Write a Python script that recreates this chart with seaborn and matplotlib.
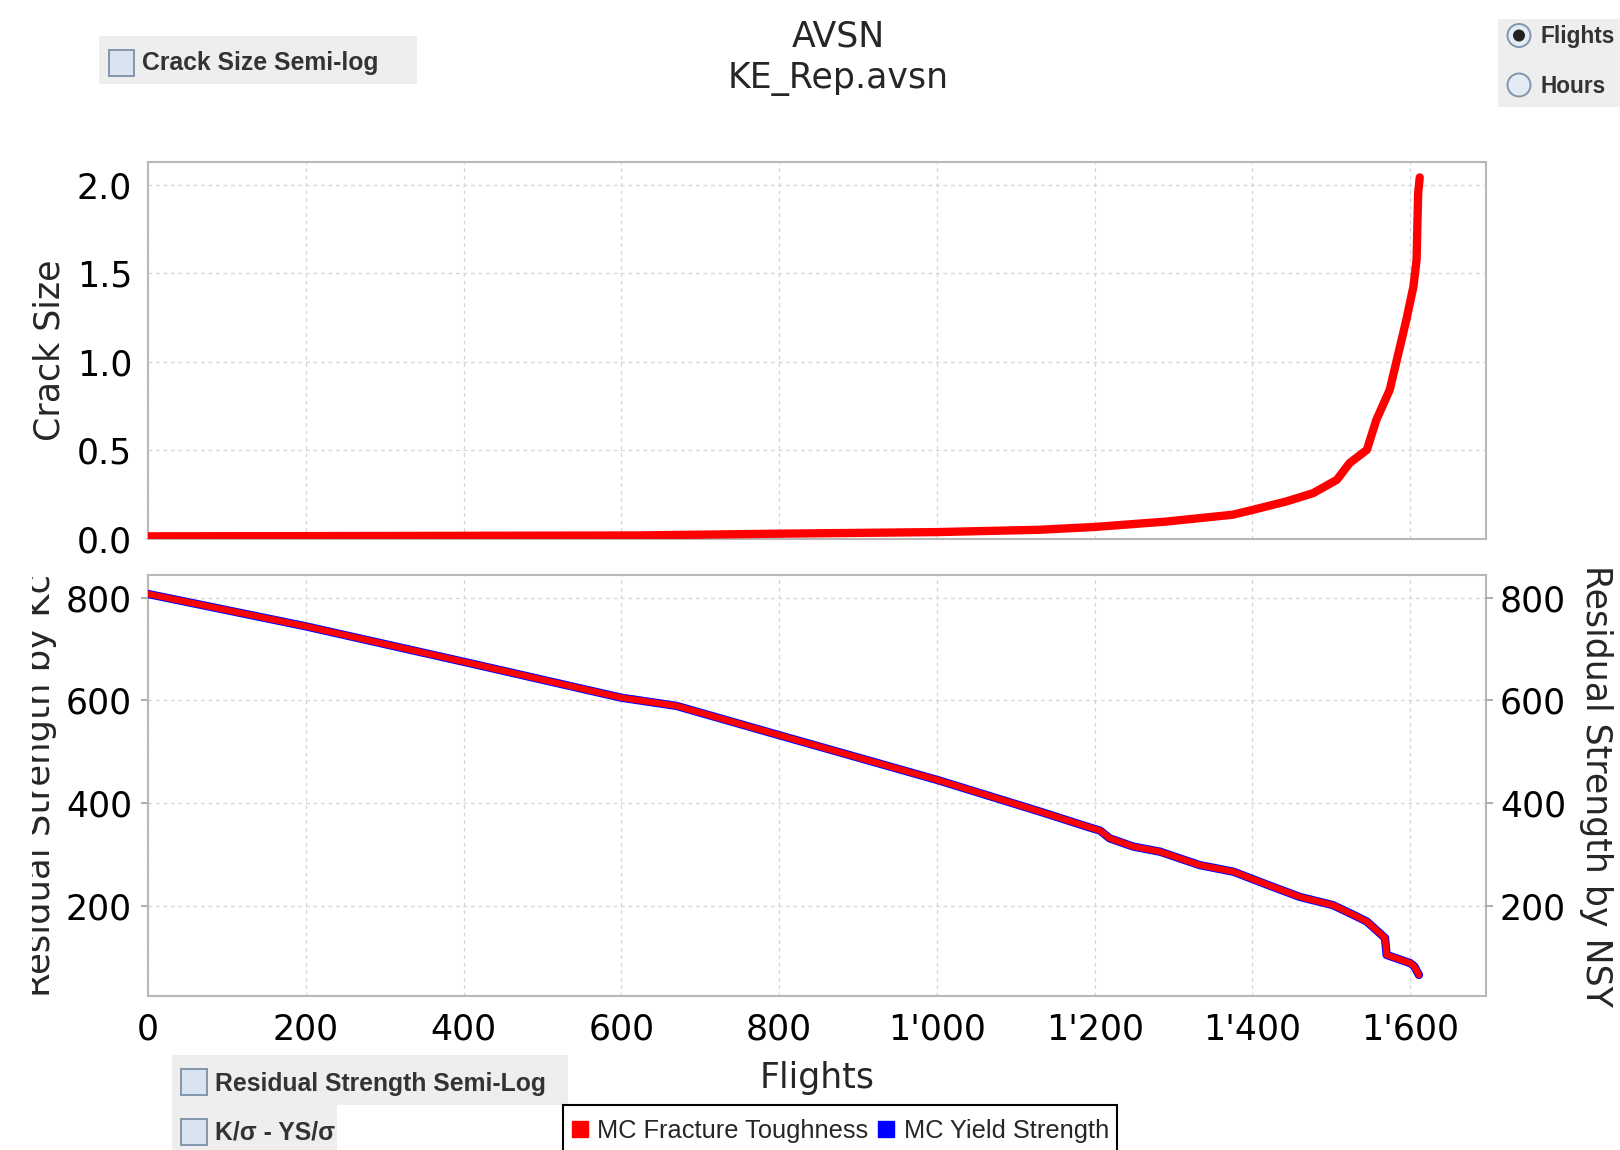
import matplotlib
matplotlib.use("Agg")
import matplotlib.pyplot as plt
import seaborn as sns
import pandas as pd
from matplotlib.patches import Rectangle, Circle
from matplotlib.lines import Line2D
from matplotlib.ticker import FuncFormatter, FixedLocator
from matplotlib.transforms import Bbox, TransformedBbox
from matplotlib import font_manager as fm

# ---------------- data ----------------
crack_flights = [0, 300, 620, 800, 1000, 1130, 1200, 1290, 1375, 1401, 1443, 1477,
                 1507, 1523, 1545, 1557, 1574, 1583, 1595, 1604, 1608, 1610, 1612]
crack_size = [0.015, 0.017, 0.020, 0.030, 0.039, 0.052, 0.068, 0.098, 0.137, 0.165,
              0.212, 0.259, 0.334, 0.428, 0.503, 0.672, 0.842, 1.011, 1.236, 1.424,
              1.575, 1.950, 2.040]

rs_flights = [0, 200, 400, 600, 670, 800, 1000, 1131, 1190, 1207, 1219, 1249, 1283,
              1333, 1376, 1420, 1460, 1502, 1528, 1545, 1568, 1570, 1600, 1605, 1611]
rs_kc = [807, 744, 675, 605, 589, 532, 445, 383, 354, 346, 331, 315, 305,
         279, 266, 240, 217, 201, 182, 169, 137, 104, 88, 82, 65]
rs_nsy = [807, 744, 675, 605, 589, 532, 445, 383, 354, 346, 331, 315, 305,
          279, 266, 240, 217, 201, 182, 169, 137, 104, 88, 82, 65]

x_ticks = [0, 200, 400, 600, 800, 1000, 1200, 1400, 1600]
crack_ticks = [0.0, 0.5, 1.0, 1.5, 2.0]
rs_ticks = [200, 400, 600, 800]

title_lines = ["AVSN", "KE_Rep.avsn"]
series_names = ["MC Fracture Toughness", "MC Yield Strength"]

# ---------------- style ----------------
sns.set_theme(style="white")
plt.rcParams["font.family"] = ["DejaVu Sans"]

names = {f.name for f in fm.fontManager.ttflist}
HAS_NARROW = "Liberation Sans Narrow" in names
WFONT = "Liberation Sans Narrow" if HAS_NARROW else "Liberation Sans"
CB_SIZE = 21.5 if HAS_NARROW else 17.8
RB_SIZE = 20.0 if HAS_NARROW else 16.3

W, H = 1620, 1150
fig = plt.figure(figsize=(W / 100, H / 100), dpi=100, facecolor="white")

L, R = 148, 1486
ax1 = fig.add_axes([L / W, 1 - 539 / H, (R - L) / W, (539 - 162) / H])
ax2 = fig.add_axes([L / W, 1 - 996 / H, (R - L) / W, (996 - 575) / H], sharex=ax1)

df_crack = pd.DataFrame({"Flights": crack_flights, "Crack": crack_size})
df_rs = pd.DataFrame({"Flights": rs_flights, "Kc": rs_kc, "NSY": rs_nsy})

sns.lineplot(data=df_crack, x="Flights", y="Crack", ax=ax1, color="#ff0000",
             linewidth=6, sort=False, estimator=None, zorder=3)
sns.lineplot(data=df_rs, x="Flights", y="NSY", ax=ax2, color="#0000ff",
             linewidth=6.0, sort=False, estimator=None, zorder=3)
sns.lineplot(data=df_rs, x="Flights", y="Kc", ax=ax2, color="#ff0000",
             linewidth=4.6, sort=False, estimator=None, zorder=4)

spine_c = "#b8b8b8"
grid_kw = dict(color="#d4d4d4", linewidth=0.9, linestyle=(0, (3, 3)))

for ax in (ax1, ax2):
    for s in ax.spines.values():
        s.set_color(spine_c)
        s.set_linewidth(1.5)
    ax.set_xlim(0, 1696)
    ax.xaxis.set_major_locator(FixedLocator(x_ticks))
    ax.grid(True, **grid_kw)
    ax.set_axisbelow(True)
    ax.tick_params(axis="both", direction="out", length=5, width=1.2,
                   color="#a0a0a0", labelsize=25, labelcolor="black", pad=6.5)

ax1.set_ylim(0, 2.127)
ax1.yaxis.set_major_locator(FixedLocator(crack_ticks))
ax1.yaxis.set_major_formatter(FuncFormatter(lambda v, p: f"{v:.1f}"))
ax1.tick_params(axis="x", length=0, labelbottom=False)
ax1.set_xlabel("")
ax1.set_ylabel("Crack Size", fontsize=25)
ax1.yaxis.set_label_coords((49.5 - L) / (R - L), 0.5)
ax1.yaxis.label.set_verticalalignment("center")

ax2.set_ylim(24, 844)
ax2.yaxis.set_major_locator(FixedLocator(rs_ticks))
ax2.xaxis.set_major_formatter(FuncFormatter(lambda v, p: f"{int(v):,}".replace(",", "'")))
ax2.tick_params(axis="x", pad=7)
ax2.set_xlabel("Flights", fontsize=25)
ax2.xaxis.set_label_coords(0.5, (996 - 1061) / (996 - 575))
ax2.xaxis.label.set_verticalalignment("top")

# left label of the lower plot: clipped on its ascender side, as in the source
ax2.set_ylabel("Residual Strength by Kc", fontsize=25.5)
ax2.yaxis.set_label_coords((50 - L) / (R - L), 0.5)
ax2.yaxis.label.set_verticalalignment("baseline")
clip = TransformedBbox(Bbox([[32 / W, 1 - 997 / H], [1, 1 - 575 / H]]), fig.transFigure)
ax2.yaxis.label.set_clip_box(clip)
ax2.yaxis.label.set_clip_on(True)

ax2r = ax2.twinx()
ax2r.set_ylim(ax2.get_ylim())
ax2r.yaxis.set_major_locator(FixedLocator(rs_ticks))
ax2r.grid(False)
for s in ax2r.spines.values():
    s.set_visible(False)
ax2r.tick_params(axis="y", direction="out", length=5, width=1.2, color="#a0a0a0",
                 labelsize=25, labelcolor="black", pad=5)
ax2r.set_ylabel("Residual Strength by NSY", fontsize=25, rotation=270)
ax2r.yaxis.set_label_coords((1596 - L) / (R - L), 0.5)
ax2r.yaxis.label.set_verticalalignment("center")

# ---------------- titles ----------------
fig.text(838 / W, 1 - 46.5 / H, title_lines[0], fontsize=25, ha="center", va="baseline")
fig.text(838 / W, 1 - 88.5 / H, title_lines[1], fontsize=25, ha="center", va="baseline")

# ---------------- widget helpers ----------------
def prect(x0, y0, x1, y1, **kw):
    fig.add_artist(Rectangle((x0 / 100, (H - y1) / 100), (x1 - x0) / 100, (y1 - y0) / 100,
                             transform=fig.dpi_scale_trans, **kw))

def pcircle(cx, cy, r, **kw):
    fig.add_artist(Circle((cx / 100, (H - cy) / 100), r / 100,
                          transform=fig.dpi_scale_trans, **kw))

def ptext(x, y, s, size, **kw):
    fig.text(x / W, 1 - y / H, s, fontsize=size, va="center", ha="left",
             family=[WFONT, "DejaVu Sans"], fontweight="bold", color="#333333", **kw)

box_c = "#eeeeee"
cb_face, cb_edge = "#d9e4f0", "#8195ac"

# Crack Size Semi-log checkbox
prect(99, 36, 417, 84, facecolor=box_c, edgecolor="none")
prect(108.5, 50.5, 134, 76, facecolor=cb_face, edgecolor=cb_edge, linewidth=1.4)
ptext(141.5, 63, "Crack Size Semi-log", CB_SIZE)

# Flights / Hours radio buttons
prect(1498, 19, 1621, 107, facecolor=box_c, edgecolor="none")
pcircle(1519, 35.5, 11.5, facecolor="#e3ebf4", edgecolor=cb_edge, linewidth=1.4)
pcircle(1519, 35.5, 6, facecolor="#222222", edgecolor="none")
pcircle(1519, 85, 11.5, facecolor="#e3ebf4", edgecolor=cb_edge, linewidth=1.4)
ptext(1540.5, 37, "Flights", RB_SIZE)
ptext(1540.5, 86.5, "Hours", RB_SIZE)

# bottom checkboxes
prect(171.5, 1055, 568, 1105, facecolor=box_c, edgecolor="none")
prect(181, 1069, 206.5, 1095, facecolor=cb_face, edgecolor=cb_edge, linewidth=1.4)
ptext(215, 1083.5, "Residual Strength Semi-Log", CB_SIZE)

prect(171.5, 1105, 336.5, 1151, facecolor=box_c, edgecolor="none")
prect(181, 1119, 206.5, 1145, facecolor=cb_face, edgecolor=cb_edge, linewidth=1.4)
ptext(215, 1133, "K/σ - YS/σ", CB_SIZE)

# ---------------- legend ----------------
handles = [Line2D([], [], marker="s", color="#ff0000", linestyle="none", markersize=11.5),
           Line2D([], [], marker="s", color="#0000ff", linestyle="none", markersize=11.5)]
leg = fig.legend(handles=handles, labels=series_names, loc="upper left",
                 bbox_to_anchor=(563 / W, 1 - 1105 / H), bbox_transform=fig.transFigure,
                 ncol=2, frameon=True, fancybox=False, edgecolor="black", framealpha=1,
                 prop={"family": "Liberation Sans", "size": 18.3},
                 handlelength=0.7, handleheight=1.7, handletextpad=0.35, columnspacing=0.35,
                 borderpad=0.3, borderaxespad=0)
leg.get_frame().set_linewidth(1.5)
# nudge the square markers down so they sit on the text's centre line
for h in leg.legend_handles:
    yd = [v - 2.5 for v in h.get_ydata()]
    h.set_ydata(yd)

fig.savefig("out.png", dpi=100, facecolor="white")
